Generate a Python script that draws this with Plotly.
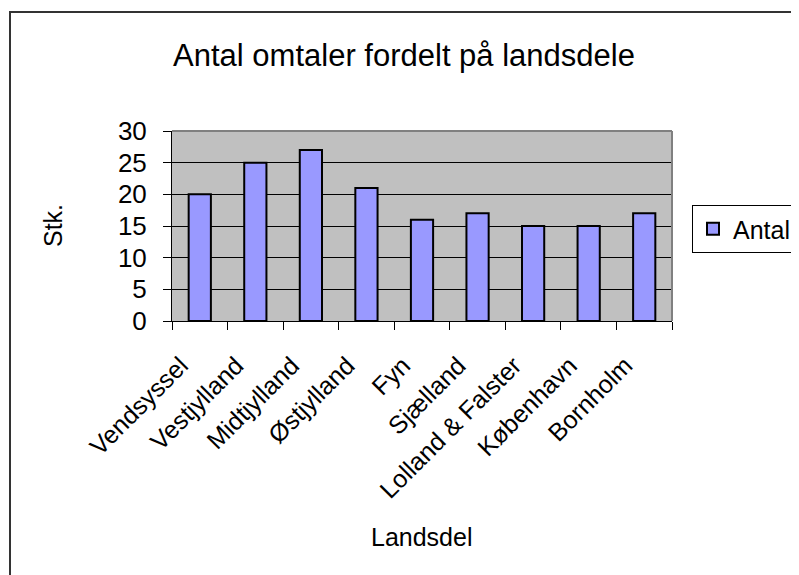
import plotly.graph_objects as go

categories = ["Vendsyssel", "Vestjylland", "Midtjylland", "Østjylland", "Fyn",
              "Sjælland", "Lolland & Falster", "København", "Bornholm"]
antal = [20, 25, 27, 21, 16, 17, 15, 15, 17]
y_ticks = [0, 5, 10, 15, 20, 25, 30]

FONT = "Arial, 'Liberation Sans', sans-serif"

OX, OY = 8, 8            # page body margin offset
W, H = 799 - OX, 575 - OY
# plot area in screenshot px
SL, SR, ST, SB = 172, 672, 131, 321
L, R, T, B = SL - OX, SR - OX, ST - OY, SB - OY


def px_x(px):
    return (px - SL) / (SR - SL)


def px_y(py):
    return (SB - py) / (SB - ST)


fig = go.Figure()
fig.add_trace(go.Bar(
    x=categories, y=antal, name="Antal",
    marker=dict(color="#9999FF", line=dict(color="black", width=2)),
    showlegend=True,
))

fig.update_layout(
    template="none",
    width=W, height=H,
    autosize=False,
    margin=dict(l=L, r=W - R, t=T, b=H - B, pad=0, autoexpand=False),
    paper_bgcolor="white",
    plot_bgcolor="#C0C0C0",
    bargap=0.6,
    font=dict(family=FONT, color="black", size=25),
    title=dict(text="Antal omtaler fordelt på landsdele", x=(404 - OX) / W, xref="container",
               xanchor="center", y=1 - (55 - OY) / H, yref="container", yanchor="middle",
               font=dict(size=31, family=FONT, color="black")),
    xaxis=dict(type="category", range=[-0.5, 8.5], tickson="boundaries",
               ticks="outside", ticklen=8, tickcolor="black", tickwidth=1,
               showline=True, linecolor="black", linewidth=1,
               tickangle=-45, ticklabelstandoff=19, ticklabelshift=-19,
               automargin=False,
               tickfont=dict(size=25, family=FONT, color="black"),
               showgrid=False, zeroline=False, fixedrange=True),
    yaxis=dict(range=[0, 30], tickvals=y_ticks, ticks="outside", ticklen=8,
               tickcolor="black", tickwidth=1, showline=True, linecolor="black",
               linewidth=1, showgrid=True, gridcolor="black", gridwidth=1,
               zeroline=False, ticklabelstandoff=11, automargin=False,
               tickfont=dict(size=26, family=FONT, color="black"), fixedrange=True),
    legend=dict(x=px_x(692), y=px_y(205), xanchor="left", yanchor="top",
                bordercolor="black", borderwidth=1, bgcolor="white",
                itemwidth=30,
                font=dict(size=25, family=FONT, color="black"),
                itemclick=False, itemdoubleclick=False),
    showlegend=True,
)

fig.add_annotation(text="Stk.", x=px_x(53), y=0.5, xref="paper", yref="paper",
                   textangle=-90, showarrow=False, xanchor="center", yanchor="middle",
                   font=dict(size=25, family=FONT, color="black"))
fig.add_annotation(text="Landsdel", x=px_x(421), y=px_y(537), xref="paper", yref="paper",
                   showarrow=False, xanchor="center", yanchor="middle",
                   font=dict(size=25, family=FONT, color="black"))

# plot-area grey border (top and right)
fig.add_shape(type="line", xref="paper", yref="paper", x0=0, x1=1, y0=1, y1=1,
              line=dict(color="#808080", width=2), layer="above")
fig.add_shape(type="line", xref="paper", yref="paper", x0=1, x1=1, y0=0, y1=1,
              line=dict(color="#808080", width=2), layer="above")

# outer chart frame
fig.add_shape(type="rect", xref="paper", yref="paper",
              x0=px_x(10), x1=px_x(900), y0=px_y(12), y1=px_y(700),
              line=dict(color="#333333", width=2), layer="above")

fig.write_html("out.html")
